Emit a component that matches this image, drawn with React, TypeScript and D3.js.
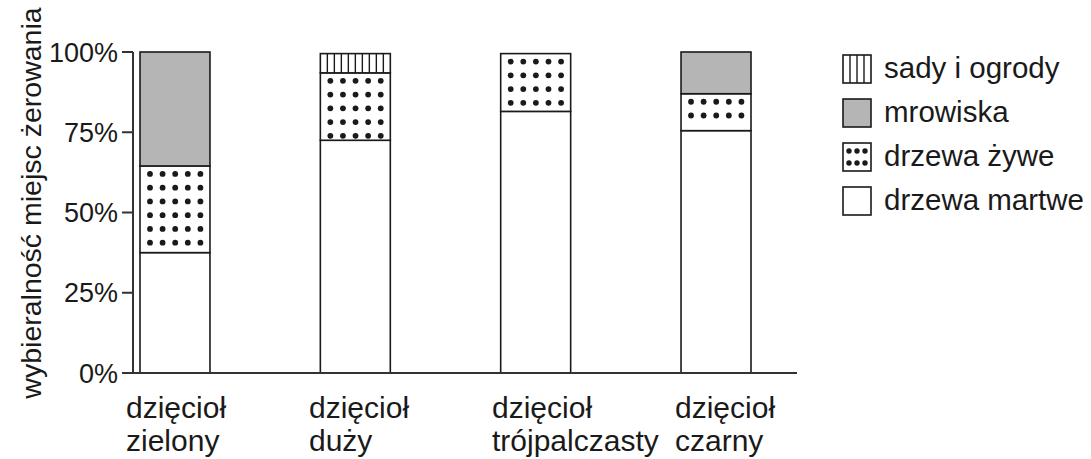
import React from 'react';
import * as d3 from 'd3';

// gatunki dzięciołów (dwie linie podpisu)
const species = ['zielony', 'duży', 'trójpalczasty', 'czarny'];
const speciesPrefix = 'dzięcioł';

// udział miejsc żerowania [%]
const deadTrees = [37.5, 72.5, 81.5, 75.5];
const liveTrees = [27, 21, 18, 11.5];
const anthills = [35.5, 0, 0, 13];
const orchards = [0, 6, 0, 0];

const yTicks = [0, 25, 50, 75, 100];
const legendLabels = ['sady i ogrody', 'mrowiska', 'drzewa żywe', 'drzewa martwe'];
const legendKinds = ['stripes', 'gray', 'dots', 'white'];

const W = 1091;
const H = 459;
const FONT = '"Liberation Sans", Arial, sans-serif';
const INK = '#1a1a1a';
const GRAY = '#b5b5b5';

type Seg = { kind: string; from: number; to: number };

const App: React.FC = () => {
  const x = d3.scaleBand<string>()
    .domain(species)
    .range([140, 751])
    .paddingInner(0.612)
    .paddingOuter(0);

  // podpisy stoją w nieco innym rytmie niż słupki
  const labelX = d3.scalePoint<string>().domain(species).range([126, 675]);

  const y = d3.scaleLinear().domain([0, 100]).range([373, 52]);
  const bw = x.bandwidth();

  const stacks: Seg[][] = species.map((_, i) => {
    const parts = [
      { kind: 'white', v: deadTrees[i] },
      { kind: 'dots', v: liveTrees[i] },
      { kind: 'gray', v: anthills[i] },
      { kind: 'stripes', v: orchards[i] },
    ];
    let acc = 0;
    return parts.filter(p => p.v > 0).map(p => {
      const s = { kind: p.kind, from: acc, to: acc + p.v };
      acc += p.v;
      return s;
    });
  });

  const dotsIn = (x0: number, w: number, top: number, bottom: number, cols: number, dx: number, dy: number, off: number) => {
    const rows = d3.range(top + off, bottom - 3.5, dy);
    const xs = d3.range(cols).map(c => x0 + off + 2 + c * dx);
    return rows.flatMap(ry => xs.filter(cx => cx < x0 + w).map(cx => [cx, ry]));
  };

  const stripesIn = (x0: number, w: number, step: number) => d3.range(x0 + step, x0 + w - 1, step);

  const renderSeg = (s: Seg, x0: number, w: number, key: string) => {
    const top = y(s.to);
    const bottom = y(s.from);
    const h = bottom - top;
    return (
      <g key={key}>
        <rect x={x0} y={top} width={w} height={h}
          fill={s.kind === 'gray' ? GRAY : '#fff'} stroke={INK} strokeWidth={1.6} />
        {s.kind === 'dots' && dotsIn(x0, w, top, bottom, 5, 12.6, 13.75, 8).map(([cx, cy], j) => (
          <circle key={j} cx={cx} cy={cy} r={2.9} fill={INK} />
        ))}
        {s.kind === 'stripes' && stripesIn(x0, w, 7).map((lx, j) => (
          <line key={j} x1={lx} x2={lx} y1={top} y2={bottom} stroke={INK} strokeWidth={1.4} />
        ))}
      </g>
    );
  };

  const legendX = 843;
  const legendSize = 28;
  const legendY = d3.scalePoint<string>().domain(legendLabels).range([69, 201]);

  const legendIcon = (kind: string, cy: number, key: string) => {
    const x0 = legendX;
    const top = cy - legendSize / 2;
    return (
      <g key={key}>
        <rect x={x0} y={top} width={legendSize} height={legendSize}
          fill={kind === 'gray' ? GRAY : '#fff'} stroke={INK} strokeWidth={1.6} />
        {kind === 'stripes' && stripesIn(x0, legendSize, 7).map((lx, j) => (
          <line key={j} x1={lx} x2={lx} y1={top} y2={top + legendSize} stroke={INK} strokeWidth={1.4} />
        ))}
        {kind === 'dots' && d3.cross(d3.range(3), d3.range(2)).map(([c, r], j) => (
          <circle key={j} cx={x0 + 6 + c * 8} cy={top + 8 + r * 12} r={2.7} fill={INK} />
        ))}
      </g>
    );
  };

  return (
    <div style={{ position: 'fixed', left: 0, top: 0, width: W, height: H, background: '#fff' }}>
      <svg width={W} height={H} style={{ display: 'block', fontFamily: FONT }}>
        {/* słupki */}
        {species.map((sp, i) => (
          <g key={sp}>
            {stacks[i].map((s, k) => renderSeg(s, x(sp) as number, bw, `${sp}-${k}`))}
          </g>
        ))}

        {/* oś Y */}
        <line x1={133} x2={133} y1={y(100)} y2={y(0)} stroke="#333" strokeWidth={2} />
        {yTicks.map(t => (
          <g key={t}>
            <line x1={122} x2={133} y1={y(t)} y2={y(t)} stroke="#333" strokeWidth={2} />
            <text x={118} y={y(t)} dy="0.36em" textAnchor="end" fontSize={27} fill={INK}>{t}%</text>
          </g>
        ))}
        {/* oś X */}
        <line x1={122} x2={797} y1={y(0)} y2={y(0)} stroke="#333" strokeWidth={2} />

        {/* podpisy kategorii */}
        {species.map(sp => (
          <text key={sp} fontSize={30} fill={INK}>
            <tspan x={labelX(sp)} y={418}>{speciesPrefix}</tspan>
            <tspan x={labelX(sp)} y={451}>{sp}</tspan>
          </text>
        ))}

        {/* tytuł osi Y */}
        <text transform="translate(41,203) rotate(-90)" textAnchor="middle" fontSize={28.5} fill={INK}>
          wybieralność miejsc żerowania
        </text>

        {/* legenda */}
        {legendLabels.map((lab, i) => (
          <g key={lab}>
            {legendIcon(legendKinds[i], legendY(lab) as number, lab)}
            <text x={884} y={legendY(lab) as number} dy="0.32em" fontSize={29.5} fill={INK}>{lab}</text>
          </g>
        ))}
      </svg>
    </div>
  );
};

export default App;
